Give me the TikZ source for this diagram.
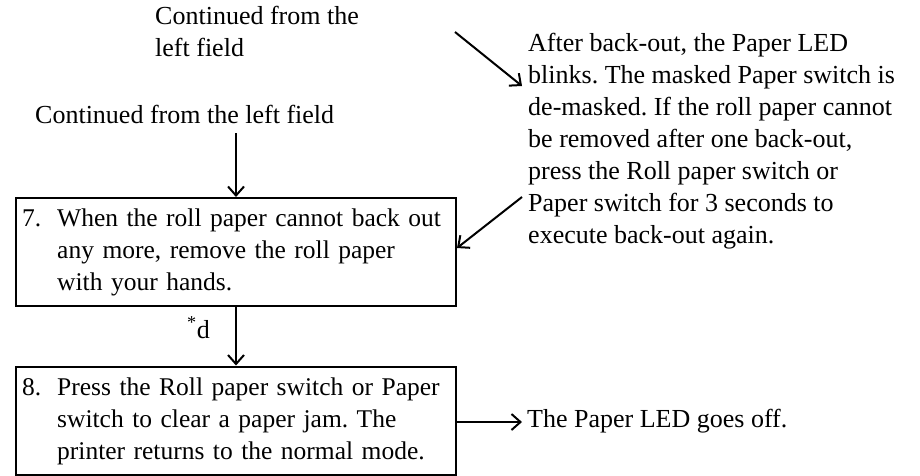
\documentclass[tikz,border=0pt]{standalone}
\usepackage{fontspec}
\setmainfont{Liberation Serif}
\usetikzlibrary{arrows.meta}
\begin{document}
\frenchspacing
\begin{tikzpicture}[x=1pt,y=-1pt,
  txt/.style={inner sep=0pt, font=\fontsize{26}{32}\selectfont, align=left},
  stepbox/.style={draw, line width=2.4pt, minimum width=440pt, minimum height=108pt, anchor=north west,
    inner xsep=6pt, inner ysep=0pt, text width=428pt, align=left, font=\fontsize{25.5}{32}\selectfont},
  arr/.style={line width=2pt, -{Straight Barb[length=9pt,width=16pt,line width=2pt]}}]
\useasboundingbox (0,0) rectangle (920,475);
\node[stepbox] (box7) at (15,197) {\begin{tabular}{@{}p{35pt}@{}l@{}}7.& When the roll paper cannot back out\\ & any more, remove the roll paper\\ & with your hands.\end{tabular}};
\node[stepbox] (box8) at (15,365.5) {\begin{tabular}{@{}p{35pt}@{}l@{}}8.& Press the Roll paper switch or Paper\\ & switch to clear a paper jam. The\\ & printer returns to the normal mode.\end{tabular}};
\node[txt, anchor=base west] (left) at (35,123) {Continued from the left field};
\node[txt, anchor=north west] (top) at (155,5.5) {Continued from the\\left field};
\node[txt, anchor=north west] (info) at (528,32.5) {After back-out, the Paper LED\\blinks. The masked Paper switch is\\de-masked. If the roll paper cannot\\be removed after one back-out,\\press the Roll paper switch or\\Paper switch for 3 seconds to\\execute back-out again.};
\node[txt, anchor=base west] (off) at (527,427) {The Paper LED goes off.};
\node[txt, anchor=base west] (d) at (187,338) {\textsuperscript{*}d};
\coordinate (a1) at (236,133);
\coordinate (s2) at (455,32);
\coordinate (e2) at (522,86);
\coordinate (s3) at (522,197);
\coordinate (e3) at (457,248);
\coordinate (r) at (522,422);
\draw[arr] (a1) -- (a1 |- box7.north);
\draw[arr] (box7.south -| a1) -- (box8.north -| a1);
\draw[arr] (box8.east |- r) -- (r);
\draw[arr] (s2) -- (e2);
\draw[arr] (s3) -- (e3);
\end{tikzpicture}
\end{document}
